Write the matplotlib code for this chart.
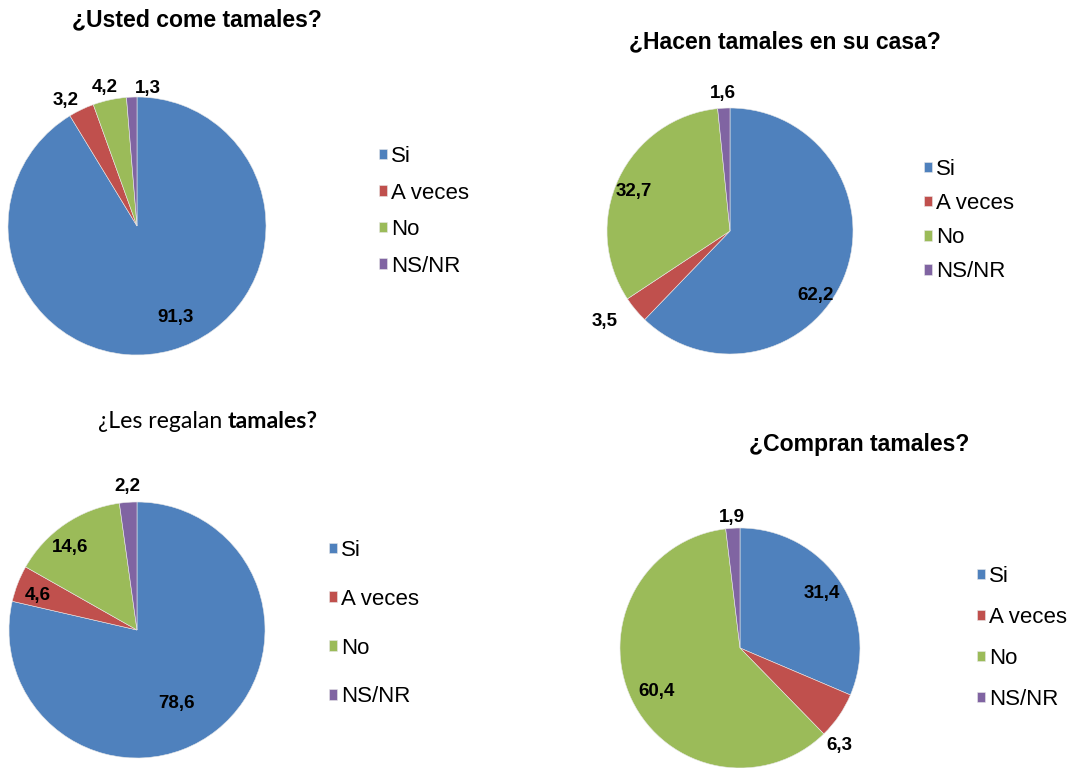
import numpy as np
import matplotlib
matplotlib.use('Agg')
import matplotlib.pyplot as plt

W, H = 1072, 768
categories = ['Si', 'A veces', 'No', 'NS/NR']
colors = ['#4F81BD', '#C0504D', '#9BBB59', '#8064A2']

usted_come = [91.3, 3.2, 4.2, 1.3]
hacen_casa = [62.2, 3.5, 32.7, 1.6]
les_regalan = [78.6, 4.6, 14.6, 2.2]
compran = [31.4, 6.3, 60.4, 1.9]

plt.rcParams['font.family'] = ['Liberation Sans', 'DejaVu Sans']
fig = plt.figure(figsize=(W / 100, H / 100), dpi=100)

def px_axes(cx, cy, r):
    return fig.add_axes([(cx - r) / W, 1 - (cy + r) / H, 2 * r / W, 2 * r / H])

def draw_pie(values, cx, cy, r, dists, dang, leg_xy, spacing):
    ax = px_axes(cx, cy, r)
    wedges, _ = ax.pie(values, colors=colors, startangle=90, counterclock=False,
                       radius=1, wedgeprops=dict(linewidth=0.4, edgecolor='#e8e8e8'))
    ax.set_xlim(-1, 1); ax.set_ylim(-1, 1); ax.set_aspect('equal'); ax.axis('off')
    for w, v, d, da in zip(wedges, values, dists, dang):
        t = np.deg2rad((w.theta1 + w.theta2) / 2 + da)
        ax.text(d * np.cos(t), d * np.sin(t), f'{v:.1f}'.replace('.', ','),
                ha='center', va='center', fontsize=13.5, fontweight='bold', clip_on=False)
    fig.legend(wedges, categories, loc='upper left',
               bbox_to_anchor=(leg_xy[0] / W, 1 - leg_xy[1] / H),
               frameon=False, fontsize=16, handlelength=0.36, handleheight=0.36,
               handletextpad=0.2, labelspacing=spacing, borderpad=0, borderaxespad=0)
    return ax

draw_pie(usted_come, 137, 226, 129, [0.77, 1.12, 1.10, 1.07], [7, 4, 1, -7], (379, 146), 0.70)
draw_pie(hacen_casa, 730, 231, 123, [0.87, 1.26, 0.85, 1.12], [-15, -4, 3, 0], (924, 159), 0.59)
draw_pie(les_regalan, 137, 630, 128, [0.65, 0.82, 0.83, 1.12], [-10, 2, 5, 0], (329, 540), 1.25)
draw_pie(compran, 740, 648, 120, [0.82, 1.16, 0.78, 1.09], [0, -10, 2, 0], (977, 566), 0.90)

fig.text(197 / W, 1 - 20 / H, '¿Usted come tamales?', ha='center', va='center',
         fontsize=16.6, fontweight='bold')
fig.text(785 / W, 1 - 42 / H, '¿Hacen tamales en su casa?', ha='center', va='center',
         fontsize=16.6, fontweight='bold')
fig.text(859 / W, 1 - 445 / H, '¿Compran tamales?', ha='center', va='center',
         fontsize=16.6, fontweight='bold')
t1 = fig.text(98 / W, 1 - 422 / H, '¿Les regalan ', ha='left', va='center',
              fontsize=16.6, family=['Lato', 'DejaVu Sans'])
plt.annotate('tamales?', xy=(1, 0), xycoords=t1, xytext=(0, 0), textcoords='offset points',
             ha='left', va='bottom', fontsize=16.6, fontweight='bold',
             family=['Lato', 'DejaVu Sans'], annotation_clip=False)

fig.savefig('out.png', dpi=100)
